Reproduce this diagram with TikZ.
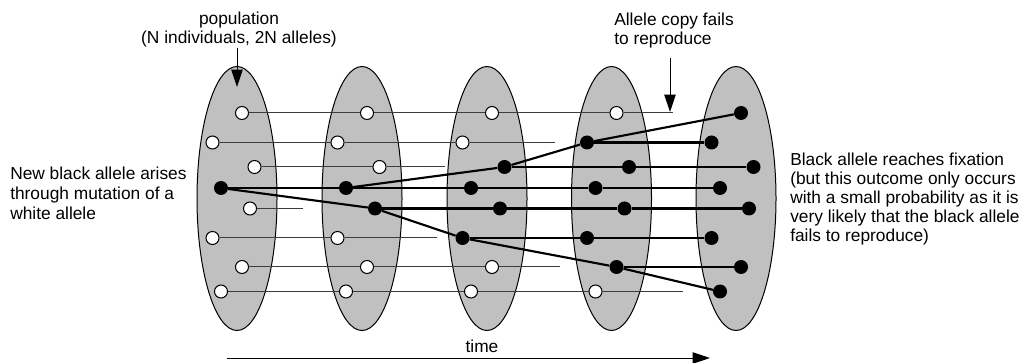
\documentclass[tikz,border=0pt]{standalone}
\usepackage{fontspec}
\setmainfont{Liberation Sans}
\usetikzlibrary{arrows.meta,shapes.geometric}
\definecolor{popfill}{RGB}{192,192,192}
\definecolor{thinline}{RGB}{60,60,60}

\begin{document}
\begin{tikzpicture}[x=0.75pt,y=-0.75pt,
  population/.style={ellipse, draw=black, line width=0.75pt, fill=popfill,
    minimum width=60pt, minimum height=198pt, inner sep=0pt},
  allelew/.style={circle, draw=black, fill=white, line width=0.75pt,
    minimum size=9.75pt, inner sep=0pt},
  alleleb/.style={circle, fill=black, minimum size=10.5pt, inner sep=0pt},
  lineage/.style={line width=0.75pt, draw=thinline},
  blacklineage/.style={line width=1.6pt, draw=black},
  pointer/.style={line width=0.75pt, -{Triangle[length=13pt,width=8.5pt]}},
  label/.style={font=\fontsize{13}{14.4}\selectfont, inner sep=0pt}]

\useasboundingbox (0,0) rectangle (1021,363);

% five successive generations of the population
\foreach \g/\cx in {1/237,2/362,3/487,4/611.5,5/736}
  \node[population] (pop\g) at (\cx,198.5) {};

% alleles of each generation (w = white, b = black)
\foreach \g/\cx/\kinds in {
    1/237/{w,w,w,b,w,w,w,w},
    2/362/{w,w,w,b,b,w,w,w},
    3/487/{w,w,b,b,b,b,w,w},
    4/611.5/{w,b,b,b,b,b,b,w},
    5/736/{b,b,b,b,b,b,b,b}}{
  \foreach \k [count=\r] in \kinds {
    \pgfmathsetmacro\dx{{5,-24.5,17.5,-16,13,-24.5,5,-16}[\r-1]}
    \pgfmathsetmacro\dy{{113,142.5,167,188,208.5,238,267,291.5}[\r-1]}
    \node[allele\k] (a\g\r) at (\cx+\dx,\dy) {};
  }
}

% copies that leave no offspring
\coordinate (end15) at (303,208.5);
\coordinate (end23) at (445,167);
\coordinate (end26) at (437,238);
\coordinate (end32) at (555,142.5);
\coordinate (end37) at (560,267);
\coordinate (end41) at (673,113);
\coordinate (end48) at (683,291.5);

% white lineages
\foreach \p/\c in {11/21,12/22,13/23,16/26,17/27,18/28,
                   21/31,22/32,27/37,28/38,
                   31/41,38/48}
  \draw[lineage] (a\p) -- (a\c);
\foreach \p in {15,23,26,32,37,41,48}
  \draw[lineage] (a\p) -- (end\p);

% black lineages
\foreach \p/\c in {14/24,14/25,
                   24/34,24/33,25/35,25/36,
                   33/42,33/43,34/44,35/45,36/46,36/47,
                   42/51,42/52,43/53,44/54,45/55,46/56,47/57,47/58}
  \draw[blacklineage] (a\p) -- (a\c);

% labels (base anchor = baseline of the last line)
\node[label, align=center, anchor=base] (poplabel) at (239,44)
  {population\\(N individuals, 2N alleles)};
\node[label, align=left, anchor=base west] (faillabel) at (614,45)
  {Allele copy fails\\to reproduce};
\node[label, align=left, anchor=base west, font=\fontsize{13}{15}\selectfont]
  (newlabel) at (10,220)
  {New black allele arises\\through mutation of a\\white allele};
\node[label, align=left, anchor=base west] (fixlabel) at (790,242)
  {Black allele reaches fixation\\(but this outcome only occurs\\with a small probability as it is\\very likely that the black allele\\fails to reproduce)};
\node[label, anchor=base] (timelabel) at (482,352) {time};

% pointers
\coordinate (popFrom) at (237,48);
\coordinate (popTip) at (237,87);
\draw[pointer] (popFrom) -- (popTip);
\coordinate (failFrom) at (670,58);
\coordinate (failTip) at (670,112);
\draw[pointer] (failFrom) -- (failTip);
\coordinate (timeFrom) at (227,358);
\coordinate (timeTip) at (710,358);
\draw[pointer] (timeFrom) -- (timeTip);
\end{tikzpicture}
\end{document}
